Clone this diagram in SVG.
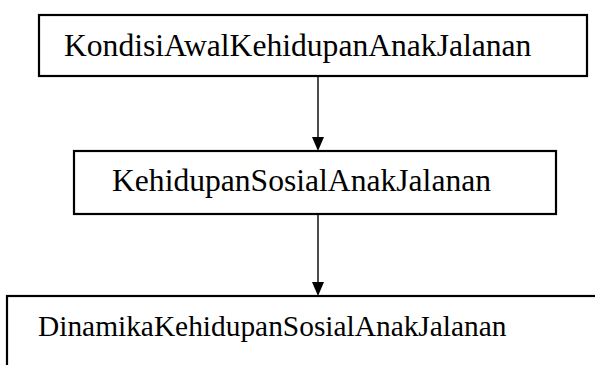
<svg xmlns="http://www.w3.org/2000/svg" width="595" height="365" viewBox="0 0 595 365">
<defs>
<style>
.box{fill:#fff;stroke:#000;stroke-width:2.2}
.lbl{font-family:"Liberation Serif","Times New Roman",serif;fill:#000}
.conn{stroke:#000;stroke-width:1.4;fill:none}
</style>
<marker id="arr" markerUnits="userSpaceOnUse" markerWidth="14" markerHeight="16" viewBox="0 0 14 16" refX="7" refY="15" orient="auto-start-reverse">
<path d="M1,1 L13,1 L7,15 Z" fill="#000"/>
</marker>
</defs>
<rect width="595" height="365" fill="#fff"/>
<g id="connectors">
<line class="conn" x1="318" y1="76" x2="318" y2="138" />
<path d="M312,137 L324,137 L318,151 Z" fill="#000"/>
<line class="conn" x1="318" y1="214" x2="318" y2="283" />
<path d="M312,282 L324,282 L318,296 Z" fill="#000"/>
</g>
<g id="node1">
<rect class="box" x="39" y="15" width="548" height="61"/>
<text class="lbl" x="64" y="56" font-size="31.6">KondisiAwalKehidupanAnakJalanan</text>
</g>
<g id="node2">
<rect class="box" x="74" y="151" width="482" height="63"/>
<text class="lbl" x="112" y="191" font-size="31.6">KehidupanSosialAnakJalanan</text>
</g>
<g id="node3">
<rect class="box" x="7" y="296" width="620" height="100"/>
<text class="lbl" x="38" y="336" font-size="29.4">DinamikaKehidupanSosialAnakJalanan</text>
</g>
</svg>
